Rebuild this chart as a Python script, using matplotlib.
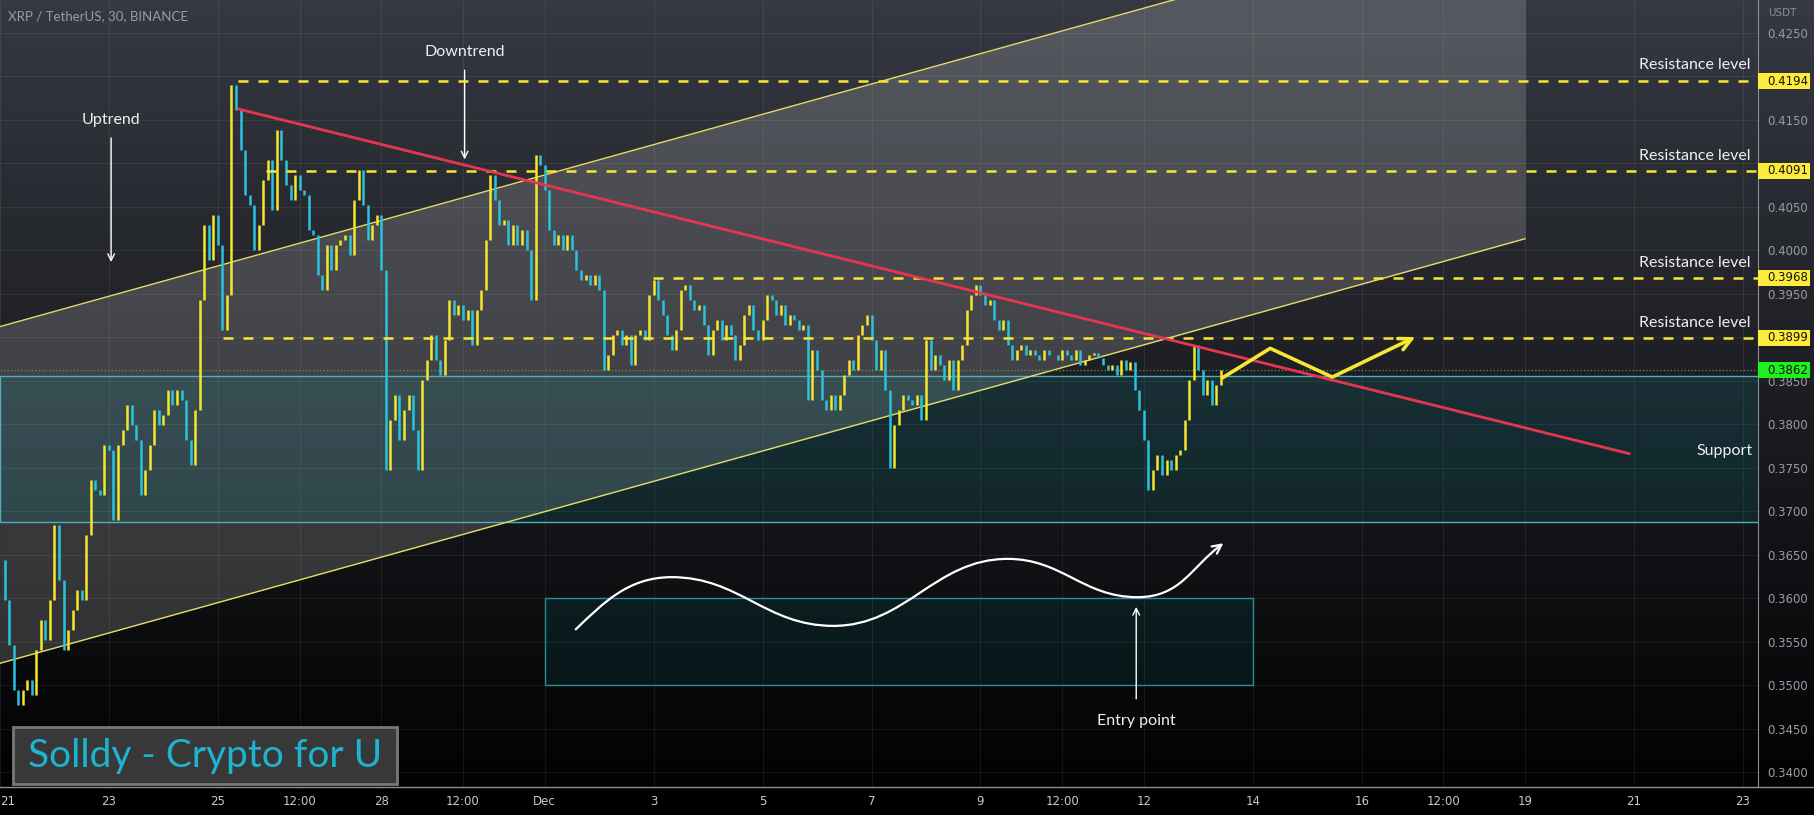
import numpy as np
import matplotlib.pyplot as plt
from matplotlib.path import Path
from matplotlib.patches import Rectangle, FancyArrowPatch
from matplotlib.lines import Line2D

W, H = 1814, 815

#------------------------------------------------------------------------------
# DATA

# 2-hourly closes in 1e-4 USDT, first value = 21 Nov 00:00
closes = [3644, 3598, 3546, 3494, 3477, 3494, 3506, 3489, 3540, 3575, 3552, 3598,
          3684, 3621, 3540, 3563, 3586, 3609, 3598, 3672, 3736, 3724, 3718, 3776,
          3770, 3690, 3776, 3793, 3822, 3799, 3782, 3718, 3747, 3776, 3816, 3799,
          3810, 3839, 3822, 3839, 3828, 3782, 3753, 3816, 3943, 4029, 3989, 4040,
          4006, 3908, 3948, 4190, 4161, 4115, 4063, 4052, 4000, 4029, 4080, 4103,
          4046, 4138, 4103, 4075, 4057, 4086, 4069, 4063, 4023, 4017, 3971, 3954,
          4006, 3977, 4006, 4011, 4017, 3994, 4057, 4092, 4052, 4011, 4029, 4040,
          3977, 3747, 3805, 3833, 3782, 3816, 3833, 3793, 3747, 3851, 3874, 3902,
          3874, 3856, 3897, 3943, 3925, 3937, 3920, 3931, 3891, 3931, 3954, 4011,
          4086, 4057, 4029, 4034, 4006, 4029, 4006, 4023, 4000, 3943, 4109, 4098,
          4069, 4023, 4006, 4017, 4000, 4017, 4000, 3977, 3966, 3971, 3960, 3971,
          3954, 3862, 3879, 3902, 3908, 3891, 3902, 3868, 3902, 3908, 3897, 3948,
          3966, 3943, 3925, 3902, 3885, 3908, 3954, 3960, 3943, 3931, 3937, 3914,
          3879, 3908, 3920, 3897, 3914, 3902, 3874, 3891, 3925, 3937, 3908, 3897,
          3920, 3948, 3943, 3925, 3937, 3914, 3925, 3920, 3908, 3914, 3828, 3885,
          3862, 3828, 3816, 3833, 3816, 3833, 3856, 3874, 3862, 3902, 3914, 3925,
          3897, 3862, 3885, 3839, 3750, 3799, 3816, 3833, 3828, 3822, 3833, 3805,
          3897, 3862, 3879, 3868, 3851, 3874, 3839, 3874, 3891, 3931, 3948, 3960,
          3948, 3937, 3943, 3920, 3908, 3920, 3891, 3874, 3885, 3891, 3879, 3885,
          3879, 3874, 3885, 3879, 3879, 3874, 3885, 3879, 3874, 3885, 3868, 3874,
          3879, 3882, 3876, 3868, 3862, 3868, 3856, 3874, 3862, 3871, 3839, 3816,
          3782, 3724, 3747, 3764, 3741, 3759, 3747, 3764, 3770, 3805, 3851, 3891,
          3862, 3833, 3851, 3822, 3845, 3862]

last_price = 0.3862

# resistance levels and the day (since 21 Nov) where each dashed line starts
levels = [0.4194, 0.4091, 0.3968, 0.3899]
level_start = [4.37, 4.88, 11.98, 4.10]

# parallel channel (lower line end points + width)
channel_days = [0.0, 28.0]
channel_low = [0.3525, 0.4013]
channel_width = 0.0387

# red downtrend line
trend_days = [4.385, 29.91]
trend_price = [0.4162, 0.3766]

support_zone = [0.3687, 0.3855]
entry_zone = [0.3500, 0.3600]
entry_days = [10.0, 23.0]

# yellow projected path
zigzag_days = [22.44, 23.32, 24.46, 25.98]
zigzag_price = [0.3853, 0.3887, 0.3854, 0.3900]

# white wave: start, swing points, end
wave_days = [10.57, 12.33, 15.30, 18.50, 20.88, 22.46]
wave_price = [0.3564, 0.3624, 0.3568, 0.3645, 0.3601, 0.3663]

tick_days = [0, 2, 4, 5.5, 7, 8.5, 10, 12, 14, 16, 18, 19.5, 21, 23, 25, 26.5, 28, 30, 32]
tick_labels = ['21', '23', '25', '12:00', '28', '12:00', 'Dec', '3', '5', '7', '9',
               '12:00', '12', '14', '16', '12:00', '19', '21', '23']
price_ticks = np.arange(0.340, 0.42501, 0.005)
# labels hidden behind the level tags
hidden_ticks = ['0.4200', '0.4100', '0.3900']

#------------------------------------------------------------------------------
# FIGURE

fig = plt.figure(figsize=(W/100, H/100), dpi=100)

# gradient background
bg = fig.add_axes([0, 0, 1, 1])
grad = np.linspace(1, 0, 256)[:, None, None] * np.array([54, 57, 66]) / 255.
bg.imshow(np.repeat(grad, 2, axis=1), aspect='auto', extent=[0, 1, 0, 1])
bg.set_axis_off()

ax = fig.add_axes([0, 1 - 787/H, 1758/W, 787/H])
ax.set_facecolor('none')
ax.set_xlim(1/54.5, 1759/54.5)
ax.set_ylim(0.33828, 0.42874)

ax.grid(True, color='white', alpha=0.07, lw=0.8)
ax.set_axisbelow(True)
for s in ['top', 'left', 'bottom']:
    ax.spines[s].set_visible(False)
ax.spines['right'].set_color('#8c8f96')

# x axis
ax.set_xticks(tick_days, tick_labels)
ax.tick_params(axis='x', length=0, pad=6, labelsize=8.5, labelcolor='#c9c9c9')
ax.get_xticklabels()[0].set_horizontalalignment('left')
# y axis on the right
ax.yaxis.tick_right()
ylabs = ['%.4f' % p for p in price_ticks]
ax.set_yticks(price_ticks, ['' if t in hidden_ticks else t for t in ylabs])
ax.tick_params(axis='y', length=0, pad=6.5, labelsize=8.5, labelcolor='#9a9ca5')
for lab in ax.get_xticklabels() + ax.get_yticklabels():
    lab.set_family(['Liberation Sans Narrow', 'DejaVu Sans'])

# channel
cd = np.array(channel_days)
cl = np.array(channel_low)
ax.fill_between(cd, cl, cl + channel_width, color='white', alpha=0.16, lw=0, zorder=1)
ax.plot(cd, cl, color='#e6dc6a', lw=1, zorder=2)
ax.plot(cd, cl + channel_width, color='#e6dc6a', lw=1, zorder=2)

# support zone + entry zone
ax.add_patch(Rectangle((0, support_zone[0]), 40, support_zone[1] - support_zone[0],
                       fc=(0.0, 0.6, 0.65, 0.14), ec='#4fb0bb', lw=1, zorder=1))
ax.add_patch(Rectangle((entry_days[0], entry_zone[0]), entry_days[1] - entry_days[0],
                       entry_zone[1] - entry_zone[0],
                       fc=(0.0, 0.6, 0.65, 0.10), ec='#2a8f9a', lw=1, zorder=1))

# current price line
ax.axhline(last_price, color='#5e9e68', lw=1, ls=(0, (1, 1.5)), alpha=0.8, zorder=2)

# candles
c = np.array(closes) / 10000.
o = np.r_[c[0], c[:-1]]
days = np.arange(len(c)) / 12.
up = c >= o
ax.vlines(days[up], o[up], c[up], color='#f5e62e', lw=1.8, zorder=3)
ax.vlines(days[~up], c[~up], o[~up], color='#2bc3dc', lw=1.8, zorder=3)

# resistance levels
for lv, st in zip(levels, level_start):
    ax.plot([st, 40], [lv, lv], color='#f7e634', lw=1.8, ls=(0, (4, 4)), zorder=4)

# red trend line
ax.plot(trend_days, trend_price, color='#e8354f', lw=2, zorder=4)

# projected zigzag
zz = Path(list(zip(zigzag_days, zigzag_price)))
ax.add_patch(FancyArrowPatch(path=zz, arrowstyle='->', mutation_scale=22,
                             color='#f7e634', lw=2.6, zorder=5))

# white wave to the entry point
wd, wp = wave_days, wave_price
verts = [(wd[0], wp[0]), (wd[0] + 0.5, wp[0] + 0.0030), (wd[1] - 0.8, wp[1]), (wd[1], wp[1])]
codes = [Path.MOVETO, Path.CURVE4, Path.CURVE4, Path.CURVE4]
for k in range(1, 4):
    dx = (wd[k+1] - wd[k]) * 0.42
    verts += [(wd[k] + dx, wp[k]), (wd[k+1] - dx, wp[k+1]), (wd[k+1], wp[k+1])]
    codes += [Path.CURVE4] * 3
verts += [(wd[4] + 0.8, wp[4]), (wd[5] - 0.6, wp[5] - 0.0028), (wd[5], wp[5])]
codes += [Path.CURVE4] * 3
ax.add_patch(FancyArrowPatch(path=Path(verts, codes), arrowstyle='->', mutation_scale=16,
                             color='white', lw=1.6, zorder=5))

# text annotations
font = dict(family=['Lato', 'DejaVu Sans'], color='#f0f0f0', fontsize=11.5)
ax.text(2.04, 0.4149, 'Uptrend', ha='center', va='center', **font)
ax.annotate('', xy=(2.04, 0.3983), xytext=(2.04, 0.4132),
            arrowprops=dict(arrowstyle='->', color='white', lw=1, mutation_scale=12))
ax.text(8.53, 0.4228, 'Downtrend', ha='center', va='center', **font)
ax.annotate('', xy=(8.53, 0.4101), xytext=(8.53, 0.4210),
            arrowprops=dict(arrowstyle='->', color='white', lw=1, mutation_scale=12))
ax.text(20.86, 0.3459, 'Entry point', ha='center', va='center', **font)
ax.annotate('', xy=(20.86, 0.3593), xytext=(20.86, 0.3481),
            arrowprops=dict(arrowstyle='->', color='white', lw=1, mutation_scale=12))

res_text_y = [0.4213, 0.4108, 0.3985, 0.3916]
for ty in res_text_y:
    ax.text(32.13, ty, 'Resistance level', ha='right', va='center', **font)
ax.text(32.17, 0.3769, 'Support', ha='right', va='center', **font)

# price tags on the axis
for lv, fc in zip(levels + [last_price], ['#ffeb3b'] * 4 + ['#1ef01e']):
    ax.add_patch(Rectangle((1.0, lv - 0.00092), 52/1758, 0.00184, fc=fc, ec='none',
                           transform=ax.get_yaxis_transform(), clip_on=False, zorder=6))
    ax.text(1767/1758, lv, '%.4f' % lv, transform=ax.get_yaxis_transform(),
            ha='left', va='center', fontsize=8.5, color='#111111', zorder=7,
            family=['Liberation Sans Narrow', 'DejaVu Sans'])

# title / unit
fig.text(8/W, 1 - 16/H, 'XRP / TetherUS, 30, BINANCE', color='#9a9ca5', fontsize=9.5,
         va='center', family=['Lato', 'DejaVu Sans'])
fig.text(1768/W, 1 - 13/H, 'USDT', color='#8a8d96', fontsize=7.5, va='center')

# bottom separator
fig.add_artist(Line2D([0, 1], [1 - 787/H] * 2, transform=fig.transFigure, color='#8c8f96', lw=1))

# watermark
fig.add_artist(Rectangle((13/W, 1 - 784/H), 384/W, 57/H, transform=fig.transFigure,
                         fc='#3c3c3c', ec='#7d7d7d', lw=2, alpha=0.95))
fig.text(205/W, 1 - 756/H, 'Solldy - Crypto for U', color='#1cb4d0', fontsize=28,
         ha='center', va='center', family=['Lato', 'DejaVu Sans'])

fig.savefig('out.png', dpi=100)
